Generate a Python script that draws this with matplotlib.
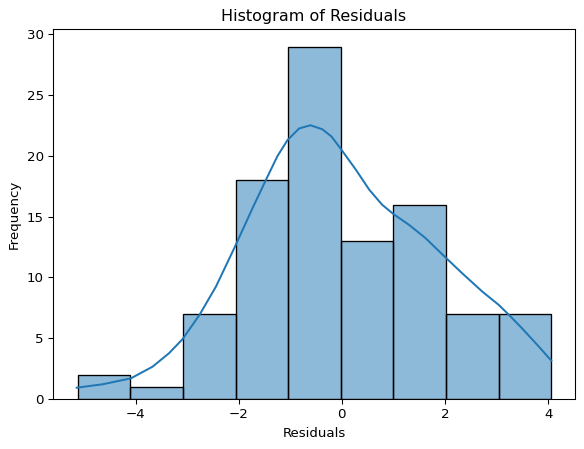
import matplotlib
matplotlib.use("Agg")
import matplotlib.pyplot as plt
import numpy as np

# histogram bins
bin_edges = np.array([-5.12, -4.10, -3.08, -2.06, -1.04, -0.02, 1.00, 2.02, 3.04, 4.06])
counts = [2, 1, 7, 18, 29, 13, 16, 7, 7]

# kde curve (scaled to counts)
kde_x = [-5.14, -4.64, -4.09, -3.67, -3.35, -3.09, -2.76, -2.44, -2.07, -1.73,
         -1.47, -1.25, -1.055, -0.83, -0.61, -0.38, -0.2, -0.035, 0.27, 0.53,
         0.78, 1.0, 1.30, 1.62, 1.99, 2.33, 2.72, 3.04, 3.24, 3.49, 3.79, 4.06]
kde_y = [0.93, 1.21, 1.70, 2.66, 3.77, 4.92, 6.92, 9.26, 12.56, 15.72,
         18.05, 19.98, 21.3, 22.26, 22.53, 22.2, 21.6, 20.67, 18.88, 17.23,
         15.99, 15.22, 14.34, 13.25, 11.73, 10.36, 8.85, 7.75, 6.92, 5.83, 4.45, 3.16]

dpi = 96
fig = plt.figure(figsize=(584/dpi, 449/dpi), dpi=dpi)
ax = fig.add_axes([53/584, 1 - 399/449, (575 - 53)/584, (399 - 29)/449])

widths = np.diff(bin_edges)
ax.bar(bin_edges[:-1], counts, width=widths, align="edge",
       color="#1f77b4", alpha=0.5, edgecolor="none")
ax.bar(bin_edges[:-1], counts, width=widths, align="edge",
       facecolor="none", edgecolor="black", linewidth=1)
ax.plot(kde_x, kde_y, color="#1f77b4", linewidth=1.5)

ax.set_title("Histogram of Residuals")
ax.set_xlabel("Residuals")
ax.set_ylabel("Frequency")
ax.set_xticks([-4, -2, 0, 2, 4])
ax.set_yticks([0, 5, 10, 15, 20, 25, 30])

fig.savefig("out.png", dpi=dpi)
